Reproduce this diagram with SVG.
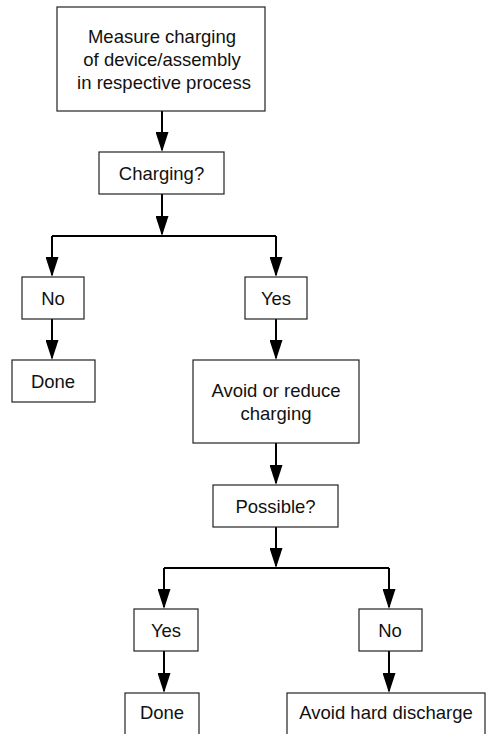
<svg xmlns="http://www.w3.org/2000/svg" width="486" height="734" viewBox="0 0 486 734">
<defs>
<style>
.box{fill:#fff;stroke:#222;stroke-width:1.2}
.t{font-family:"Liberation Sans",Arial,sans-serif;font-size:18.5px;fill:#111;text-anchor:middle}
.c{fill:none;stroke:#000;stroke-width:2}
.a{marker-end:url(#ah)}
</style>
<marker id="ah" markerUnits="userSpaceOnUse" markerWidth="20" markerHeight="13" viewBox="0 0 20 13" refX="18" refY="6.5" orient="auto">
<path d="M0,0 L20,6.5 L0,13 Z" fill="#000"/>
</marker>
</defs>
<rect width="486" height="734" fill="#fff"/>
<g id="connectors">
<path class="c a" d="M162,111 V150"/>
<path class="c a" d="M162,194 V234"/>
<path class="c" d="M52,236 H276"/>
<path class="c a" d="M52,236 V275"/>
<path class="c a" d="M276,236 V275"/>
<path class="c a" d="M52,319 V358"/>
<path class="c a" d="M276,319 V358"/>
<path class="c a" d="M276,443 V483"/>
<path class="c a" d="M276,527 V566"/>
<path class="c" d="M164,568 H389"/>
<path class="c a" d="M164,568 V607"/>
<path class="c a" d="M389,568 V607"/>
<path class="c a" d="M164,651 V691"/>
<path class="c a" d="M389,651 V691"/>
</g>
<g id="measure">
<rect class="box" x="57" y="7" width="208" height="104"/>
<text class="t" x="162" y="43">Measure charging</text>
<text class="t" x="162" y="66">of device/assembly</text>
<text class="t" x="164" y="89">in respective process</text>
</g>
<g id="charging">
<rect class="box" x="99" y="152" width="125" height="42"/>
<text class="t" x="161.5" y="179.5">Charging?</text>
</g>
<g id="no1">
<rect class="box" x="22" y="277" width="62" height="42"/>
<text class="t" x="53" y="304.5">No</text>
</g>
<g id="yes1">
<rect class="box" x="245" y="277" width="62" height="42"/>
<text class="t" x="276" y="304.5">Yes</text>
</g>
<g id="done1">
<rect class="box" x="12" y="360" width="83" height="42"/>
<text class="t" x="53" y="387.5">Done</text>
</g>
<g id="avoid">
<rect class="box" x="193" y="360" width="166" height="83"/>
<text class="t" x="276" y="396.5">Avoid or reduce</text>
<text class="t" x="276" y="419.5">charging</text>
</g>
<g id="possible">
<rect class="box" x="213" y="485" width="125" height="42"/>
<text class="t" x="275.5" y="512.5">Possible?</text>
</g>
<g id="yes2">
<rect class="box" x="134" y="609" width="64" height="42"/>
<text class="t" x="166" y="636.5">Yes</text>
</g>
<g id="no2">
<rect class="box" x="359" y="609" width="63" height="42"/>
<text class="t" x="390" y="636.5">No</text>
</g>
<g id="done2">
<rect class="box" x="125" y="693" width="74" height="50"/>
<text class="t" x="162" y="718.5">Done</text>
</g>
<g id="hard">
<rect class="box" x="287" y="693" width="198" height="50"/>
<text class="t" x="386" y="718.5">Avoid hard discharge</text>
</g>
</svg>
